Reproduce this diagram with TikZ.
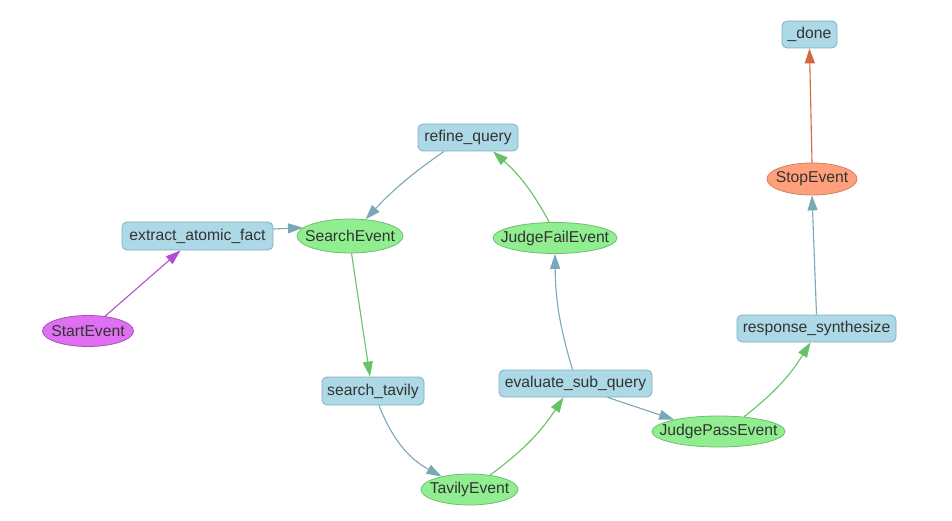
\documentclass[tikz,border=0pt]{standalone}
\usepackage{fontspec}
\setmainfont{Liberation Sans}
\usetikzlibrary{shapes.geometric,arrows.meta,calc}
\definecolor{boxfill}{HTML}{ADD8E6}
\definecolor{boxline}{HTML}{7FAFC0}
\definecolor{evfill}{HTML}{90EE90}
\definecolor{evline}{HTML}{6DBF6D}
\definecolor{stfill}{HTML}{E070F2}
\definecolor{stline}{HTML}{A850B8}
\definecolor{spfill}{HTML}{FFA07A}
\definecolor{spline}{HTML}{D08060}
\definecolor{eblue}{HTML}{7AA8B8}
\definecolor{egreen}{HTML}{66C266}
\definecolor{epurple}{HTML}{B050D0}
\definecolor{eorange}{HTML}{D2693E}
\definecolor{txt}{HTML}{333333}
\tikzset{
  base/.style={font=\fontsize{15.7}{18}\selectfont, text=txt, line width=0.8pt},
  box/.style={base, rectangle, rounded corners=5pt, fill=boxfill, draw=boxline, inner sep=0pt, minimum height=27pt},
  ev/.style={base, ellipse, fill=evfill, draw=evline, inner sep=0pt},
  startev/.style={ev, fill=stfill, draw=stline},
  stopev/.style={ev, fill=spfill, draw=spline},
  edge/.style={line width=1.1pt, -{Triangle[length=15pt,width=10pt]}},
  eb/.style={edge, draw=eblue},
  eg/.style={edge, draw=egreen},
}
\begin{document}
\begin{tikzpicture}[x=1pt,y=-1pt]
\useasboundingbox (0,0) rectangle (952,521);
% nodes
\node[box, minimum width=55pt] (done) at (809.5,34.5) {\_done};
\node[box, minimum width=100pt] (refine) at (468,137.5) {refine\_query};
\node[stopev, minimum width=90pt, minimum height=32pt] (stop) at (812,179) {\makebox[0pt]{StopEvent}};
\node[box, minimum width=151pt, minimum height=28pt] (extract) at (197.5,236) {extract\_atomic\_fact};
\node[ev, minimum width=106pt, minimum height=34pt] (search) at (350,236) {\makebox[0pt]{SearchEvent}};
\node[ev, minimum width=124pt, minimum height=31pt] (fail) at (555,238) {\makebox[0pt]{JudgeFailEvent}};
\node[startev, minimum width=91pt, minimum height=31pt] (start) at (88,331) {\makebox[0pt]{StartEvent}};
\node[box, minimum width=159pt] (resp) at (816.5,328.5) {response\_synthesize};
\node[box, minimum width=102pt, minimum height=28pt] (tavily) at (373,391) {search\_tavily};
\node[box, minimum width=153pt] (eval) at (575.5,383.5) {evaluate\_sub\_query};
\node[ev, minimum width=133pt, minimum height=31pt] (pass) at (718.5,431.5) {\makebox[0pt]{JudgePassEvent}};
\node[ev, minimum width=97pt, minimum height=31pt] (tavev) at (469.5,489.5) {\makebox[0pt]{TavilyEvent}};
% edges
\draw[edge, draw=epurple] (start.41) to ([xshift=-17pt]extract.south);
\draw[eb] ([yshift=7pt]extract.east) to (search.170);
\draw[eb] ([xshift=-24pt]refine.south) to[bend right=6] (search.47);
\draw[eg] (search.-85) to ([xshift=-3pt]tavily.north);
\draw[eb] ([xshift=6pt]tavily.south) to[bend right=20] (tavev.155);
\draw[eg] (tavev.35) to[bend right=10] ([xshift=-12pt]eval.south);
\draw[eb] ([xshift=-3pt]eval.north) to[bend left=8] (fail.south);
\draw[eg] (fail.110) to[bend right=10] ([xshift=25pt]refine.south);
\draw[eb] ([xshift=32pt]eval.south) to (pass.165);
\draw[eg] (pass.30) to[bend right=10] ([xshift=-6pt]resp.south);
\draw[eb] (resp.north) to (stop.south);
\draw[edge, draw=eorange] (stop.north) to (done.south);
\end{tikzpicture}
\end{document}
